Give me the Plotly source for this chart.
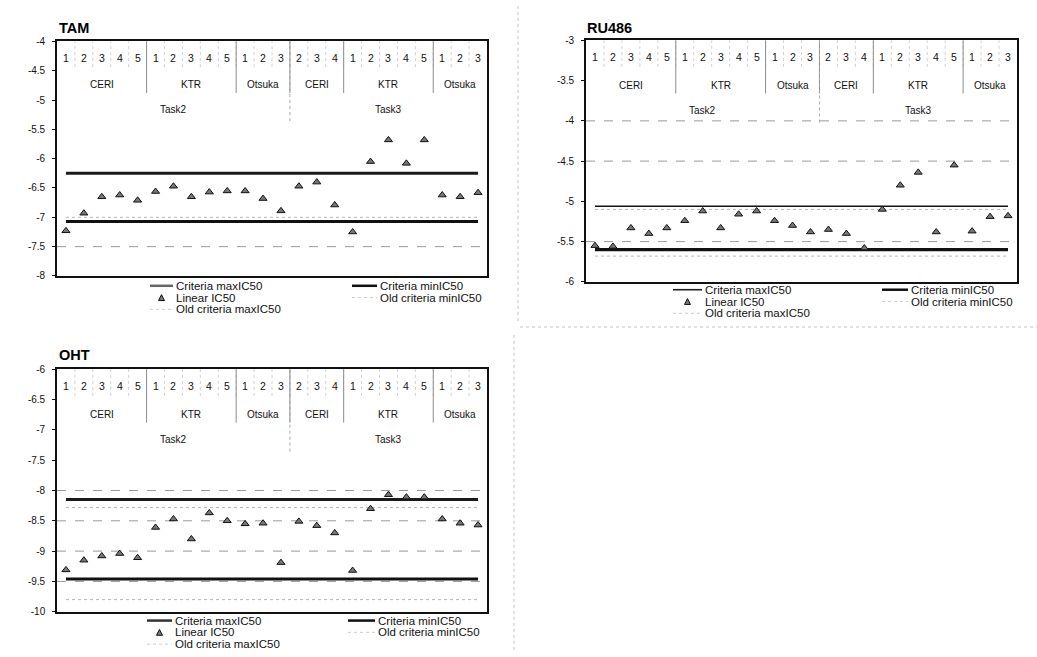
import plotly.graph_objects as go

# ---------------- data ----------------
cat_numbers = ["1", "2", "3", "4", "5", "1", "2", "3", "4", "5", "1", "2", "3",
               "2", "3", "4", "1", "2", "3", "4", "5", "1", "2", "3"]
group_names = ["CERI", "KTR", "Otsuka", "CERI", "KTR", "Otsuka"]
group_sizes = [5, 5, 3, 3, 5, 3]
task_names = ["Task2", "Task3"]
task_sizes = [13, 11]

tam_linear = [-7.23, -6.93, -6.65, -6.62, -6.71, -6.56, -6.47, -6.65, -6.57, -6.55, -6.55, -6.68,
              -6.89, -6.47, -6.40, -6.79, -7.25, -6.05, -5.68, -6.08, -5.68, -6.62, -6.65, -6.58]
ru486_linear = [-5.55, -5.56, -5.33, -5.40, -5.33, -5.24, -5.12, -5.33, -5.16, -5.12, -5.24, -5.30,
                -5.38, -5.35, -5.40, -5.58, -5.10, -4.80, -4.64, -5.38, -4.55, -5.37, -5.19, -5.18]
oht_linear = [-9.31, -9.15, -9.08, -9.04, -9.11, -8.61, -8.47, -8.80, -8.37, -8.50, -8.55, -8.54,
              -9.19, -8.51, -8.58, -8.70, -9.32, -8.30, -8.07, -8.11, -8.11, -8.47, -8.54, -8.57]

tam_criteria = {"max": -6.25, "min": -7.07, "old_max": -6.25, "old_min": -7.0}
ru486_criteria = {"max": -5.06, "min": -5.60, "old_max": -5.1, "old_min": -5.68}
oht_criteria = {"max": -8.15, "min": -9.46, "old_max": -8.28, "old_min": -9.8}

tam_ticks = [-4, -4.5, -5, -5.5, -6, -6.5, -7, -7.5, -8]
ru486_ticks = [-3, -3.5, -4, -4.5, -5, -5.5, -6]
oht_ticks = [-6, -6.5, -7, -7.5, -8, -8.5, -9, -9.5, -10]

tam_grid = [-7.5]
ru486_grid = [-4.0, -4.5, -5.5]
oht_grid = [-8.0, -8.5, -9.0, -9.5]

# ---------------- layout helpers ----------------
W, H = 1037, 657
FONT = "Liberation Sans, Arial, sans-serif"


def px(x):
    return x / W


def py(y):
    return 1 - y / H


def fmt(v):
    return "%g" % v


panels = [
    dict(name="TAM", ax="", vals=tam_linear, crit=tam_criteria, ticks=tam_ticks, grid=tam_grid,
         box=(57, 487, 36, 275), title_xy=(57, 22),
         leg=dict(rows=[285, 297, 309], lx=(150, 173), rx=(352, 377)),
         maxw=3, minw=3, maxcol="#1a1a1a", legmaxcol="#666"),
    dict(name="RU486", ax="2", vals=ru486_linear, crit=ru486_criteria, ticks=ru486_ticks, grid=ru486_grid,
         box=(586, 1017, 35, 281), title_xy=(585, 22),
         leg=dict(rows=[289, 301, 313], lx=(673, 702), rx=(882, 908)),
         maxw=1.6, minw=3.2, maxcol="#111", legmaxcol="#222"),
    dict(name="OHT", ax="3", vals=oht_linear, crit=oht_criteria, ticks=oht_ticks, grid=oht_grid,
         box=(57, 487, 370, 617), title_xy=(57, 355),
         leg=dict(rows=[626, 638, 650], lx=(147, 172), rx=(348, 375)),
         maxw=3, minw=3, maxcol="#1a1a1a", legmaxcol="#333"),
]

fig = go.Figure()
annotations = []
shapes = []
layout_axes = {}

n = len(cat_numbers)
xs = list(range(n))

for p in panels:
    xa = "x" + p["ax"]
    ya = "y" + p["ax"]
    x0, x1, y0, y1 = p["box"]
    ticks = p["ticks"]
    layout_axes["xaxis" + p["ax"]] = dict(
        domain=[px(x0), px(x1)], range=[-0.5, n - 0.5], anchor=ya,
        showticklabels=False, ticks="", showgrid=False, zeroline=False,
        showline=True, mirror=True, linecolor="#111", linewidth=1.6, fixedrange=True)
    layout_axes["yaxis" + p["ax"]] = dict(
        domain=[py(y1), py(y0)], range=[min(ticks), max(ticks)], anchor=xa,
        tickvals=ticks, ticktext=[fmt(t) for t in ticks],
        ticks="outside", ticklen=3, tickcolor="#111", tickwidth=1, ticklabelstandoff=5,
        tickfont=dict(family=FONT, size=10, color="#111"),
        showgrid=False, zeroline=False,
        showline=True, mirror=True, linecolor="#111", linewidth=1.6, fixedrange=True)

    c = p["crit"]
    # old criteria (faint dotted)
    for key in ["old_max", "old_min"]:
        fig.add_trace(go.Scatter(x=[xs[0], xs[-1]], y=[c[key], c[key]], mode="lines",
                                 line=dict(color="#b5b5b5", width=1, dash="dot"),
                                 xaxis=xa, yaxis=ya, showlegend=False, hoverinfo="skip"))
    # criteria lines
    fig.add_trace(go.Scatter(x=[xs[0], xs[-1]], y=[c["max"], c["max"]], mode="lines",
                             line=dict(color=p["maxcol"], width=p["maxw"]),
                             xaxis=xa, yaxis=ya, showlegend=False, name="Criteria maxIC50"))
    fig.add_trace(go.Scatter(x=[xs[0], xs[-1]], y=[c["min"], c["min"]], mode="lines",
                             line=dict(color="#111", width=p["minw"]),
                             xaxis=xa, yaxis=ya, showlegend=False, name="Criteria minIC50"))
    # linear IC50 markers
    fig.add_trace(go.Scatter(x=xs, y=p["vals"], mode="markers",
                             marker=dict(symbol="triangle-up", size=7, color="#777",
                                         line=dict(color="#111", width=1)),
                             xaxis=xa, yaxis=ya, showlegend=False, name="Linear IC50"))

    # gridlines
    for g in p["grid"]:
        shapes.append(dict(type="line", xref=xa + " domain", yref=ya, x0=0, x1=1, y0=g, y1=g,
                           line=dict(color="#999", width=1, dash="dash"), layer="below"))

    # category labels (multi-level)
    for i, t in enumerate(cat_numbers):
        annotations.append(dict(x=i, y=0.93, xref=xa, yref=ya + " domain", text=t, showarrow=False,
                                font=dict(family=FONT, size=10.5, color="#111"),
                                xanchor="center", yanchor="middle"))
    for i in range(n - 1):
        shapes.append(dict(type="line", xref=xa, yref=ya + " domain", x0=i + 0.5, x1=i + 0.5,
                           y0=0.89, y1=1, line=dict(color="#d0d0d0", width=1, dash="dot")))
    start = 0
    for gname, gs in zip(group_names, group_sizes):
        annotations.append(dict(x=start + (gs - 1) / 2, y=0.815, xref=xa, yref=ya + " domain",
                                text=gname, showarrow=False,
                                font=dict(family=FONT, size=10, color="#111"),
                                xanchor="center", yanchor="middle"))
        start += gs
        if start < n:
            shapes.append(dict(type="line", xref=xa, yref=ya + " domain", x0=start - 0.5, x1=start - 0.5,
                               y0=0.78, y1=1, line=dict(color="#8c8c8c", width=1)))
    start = 0
    for tname, ts in zip(task_names, task_sizes):
        annotations.append(dict(x=start + (ts - 1) / 2, y=0.71, xref=xa, yref=ya + " domain",
                                text=tname, showarrow=False,
                                font=dict(family=FONT, size=10, color="#111"),
                                xanchor="center", yanchor="middle"))
        start += ts
        if start < n:
            shapes.append(dict(type="line", xref=xa, yref=ya + " domain", x0=start - 0.5, x1=start - 0.5,
                               y0=0.66, y1=1, line=dict(color="#a8a8a8", width=1, dash="dot")))

    # title
    tx, ty = p["title_xy"]
    annotations.append(dict(x=px(tx), y=py(ty), xref="paper", yref="paper", text="<b>%s</b>" % p["name"],
                            showarrow=False, font=dict(family=FONT, size=14.5, color="#000"),
                            xanchor="left", yanchor="middle"))

    # manual legend
    lg = p["leg"]
    r0, r1, r2 = lg["rows"]
    lx0, lx1 = lg["lx"]
    rx0, rx1 = lg["rx"]
    lfont = dict(family=FONT, size=11.5, color="#111")
    # Criteria maxIC50
    shapes.append(dict(type="line", xref="paper", yref="paper", x0=px(lx0), x1=px(lx1), y0=py(r0), y1=py(r0),
                       line=dict(color=p["legmaxcol"], width=min(p["maxw"], 2.5))))
    annotations.append(dict(x=px(lx1 + 1), y=py(r0), xref="paper", yref="paper", text="Criteria maxIC50",
                            showarrow=False, font=lfont, xanchor="left", yanchor="middle"))
    # Criteria minIC50
    shapes.append(dict(type="line", xref="paper", yref="paper", x0=px(rx0), x1=px(rx1), y0=py(r0), y1=py(r0),
                       line=dict(color="#111", width=2.5)))
    annotations.append(dict(x=px(rx1 + 1), y=py(r0), xref="paper", yref="paper", text="Criteria minIC50",
                            showarrow=False, font=lfont, xanchor="left", yanchor="middle"))
    # Linear IC50 marker sample
    mx = (lx0 + lx1) / 2
    shapes.append(dict(type="path", xref="paper", yref="paper",
                       path="M %f,%f L %f,%f L %f,%f Z" % (px(mx - 3), py(r1 + 3), px(mx + 3), py(r1 + 3),
                                                           px(mx), py(r1 - 3)),
                       fillcolor="#777", line=dict(color="#111", width=1)))
    annotations.append(dict(x=px(lx1 + 1), y=py(r1), xref="paper", yref="paper", text="Linear IC50",
                            showarrow=False, font=lfont, xanchor="left", yanchor="middle"))
    # Old criteria minIC50
    shapes.append(dict(type="line", xref="paper", yref="paper", x0=px(rx0), x1=px(rx1), y0=py(r1), y1=py(r1),
                       line=dict(color="#cccccc", width=1, dash="dot")))
    annotations.append(dict(x=px(rx1 + 1), y=py(r1), xref="paper", yref="paper", text="Old criteria minIC50",
                            showarrow=False, font=lfont, xanchor="left", yanchor="middle"))
    # Old criteria maxIC50
    shapes.append(dict(type="line", xref="paper", yref="paper", x0=px(lx0), x1=px(lx1), y0=py(r2), y1=py(r2),
                       line=dict(color="#cccccc", width=1, dash="dot")))
    annotations.append(dict(x=px(lx1 + 1), y=py(r2), xref="paper", yref="paper", text="Old criteria maxIC50",
                            showarrow=False, font=lfont, xanchor="left", yanchor="middle"))

# faint panel borders from the scanned page
border = dict(color="#c4c4c4", width=1, dash="dot")
shapes.append(dict(type="line", xref="paper", yref="paper", x0=px(518), x1=px(518), y0=py(0), y1=py(322), line=border))
shapes.append(dict(type="line", xref="paper", yref="paper", x0=px(520), x1=px(1037), y0=py(327), y1=py(327), line=border))
shapes.append(dict(type="line", xref="paper", yref="paper", x0=px(514), x1=px(514), y0=py(335), y1=py(657), line=border))

fig.update_layout(
    width=W, height=H, autosize=False,
    margin=dict(l=0, r=0, t=0, b=0),
    paper_bgcolor="white", plot_bgcolor="white",
    showlegend=False,
    annotations=annotations, shapes=shapes,
    font=dict(family=FONT, size=10, color="#111"),
    **layout_axes,
)

fig.write_html("out.html", config={"displayModeBar": False})
